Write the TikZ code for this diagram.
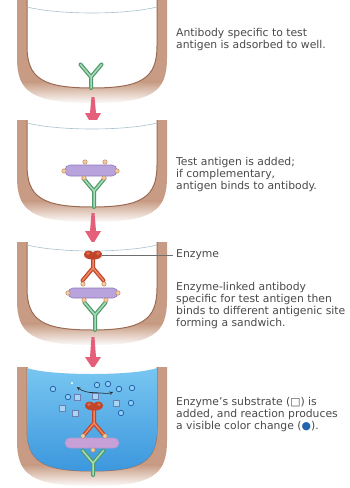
\documentclass[tikz,border=0pt]{standalone}
\usepackage{fontspec}
\setmainfont{DejaVu Sans}
\definecolor{wall}{HTML}{C89C84}
\definecolor{walledge}{HTML}{9A6A52}
\definecolor{menisc}{HTML}{A9C2CE}
\definecolor{abgreen}{HTML}{4F9B6C}
\definecolor{abgreenlt}{HTML}{A9DCB9}
\definecolor{abred}{HTML}{C0452A}
\definecolor{abredlt}{HTML}{EE8A62}
\definecolor{agpurple}{HTML}{B8A3DC}
\definecolor{agpurple4}{HTML}{C8A0D8}
\definecolor{agedge}{HTML}{8E7ABD}
\definecolor{dotfill}{HTML}{F0CCA4}
\definecolor{dotedge}{HTML}{C4885A}
\definecolor{arrowpink}{HTML}{E4607A}
\definecolor{txtgray}{HTML}{4A4A4A}
\definecolor{bluetop}{HTML}{78C6F1}
\definecolor{bluebot}{HTML}{3C97DD}
\definecolor{prodfill}{HTML}{8ED0F4}
\definecolor{prodedge}{HTML}{2463AE}
\definecolor{subfill}{HTML}{A6D6F3}
\definecolor{subedge}{HTML}{6C7DB0}

\tikzset{
  caption/.style={anchor=north west, inner sep=0pt, align=left, text=txtgray,
    font=\fontsize{10.8}{11.8}\selectfont},
  menline/.style={menisc, line width=0.6pt},
  agbar/.style={fill=agpurple, draw=agedge, line width=0.6pt, rounded corners=5pt},
  adot/.style={circle, fill=dotfill, draw=dotedge, line width=0.5pt, minimum size=4.4pt, inner sep=0pt},
  prod/.style={circle, fill=prodfill, draw=prodedge, line width=0.8pt, minimum size=5.5pt, inner sep=0pt},
  subs/.style={rectangle, fill=subfill, draw=subedge, line width=0.8pt, minimum size=6pt, inner sep=0pt},
  flowarrow/.style={fill=arrowpink},
  pointer/.style={draw=txtgray!80, line width=0.6pt},
}

% outline of the plastic around one well: #1 = top, #2 = lowest point of the bowl
\newcommand{\wellouter}[2]{(17,#1) -- (17,{#2-30}) .. controls (17,{#2+4}) and (32,{#2+15}) .. (92,{#2+15})
     .. controls (152,{#2+15}) and (167,{#2+4}) .. (167,{#2-30}) -- (167,#1) -- cycle}
\newcommand{\wellinner}[2]{(27,#1) -- (27,{#2-42}) .. controls (27,{#2-10}) and (42,#2) .. (92,#2)
     .. controls (142,#2) and (157,{#2-10}) .. (157,{#2-42}) -- (157,#1)}

\newcommand{\drawwell}[2]{%
  \begin{scope}
    \clip \wellouter{#1}{#2};
    \fill[wall] (0,{#1-2}) rectangle (349,{#2-6});
    \shade[top color=wall, bottom color=white] (0,{#2-6.2}) rectangle (349,{#2+16});
  \end{scope}
  \fill[white] \wellinner{#1}{#2} -- cycle;
  \draw[walledge, line width=1pt] \wellinner{#1}{#2};
}

% Y-shaped antibody: #1 x, #2 fork y, #3 +1 arms up / -1 arms down, #4 stem length, #5 #6 colours
\newcommand{\antibodyY}[6]{%
  \foreach \col/\wid in {#5/4, #6/1.5}{
    \draw[\col, line width=\wid pt, line cap=round, line join=round]
      ({#1-10.5},{#2-(#3)*12.5}) -- (#1,#2) -- ({#1+10.5},{#2-(#3)*12.5})
      (#1,#2) -- (#1,{#2+(#3)*(#4)});
  }
}

% enzyme attached to the top of the second antibody, centred at (#1,#2)
\newcommand{\enzymehead}[2]{%
  \fill[abred] (#1,{#2+4.5}) .. controls ({#1-4},{#2+4.5}) and ({#1-9.5},{#2+3.5}) .. ({#1-9},{#2-1})
    .. controls ({#1-8.5},{#2-5}) and ({#1-2},{#2-5.5}) .. (#1,{#2-2.5})
    .. controls ({#1+2},{#2-5.5}) and ({#1+8.5},{#2-5}) .. ({#1+9},{#2-1})
    .. controls ({#1+9.5},{#2+3.5}) and ({#1+4},{#2+4.5}) .. (#1,{#2+4.5}) -- cycle;
  \fill[abredlt, opacity=0.55] ({#1-5},{#2-1.5}) circle (1.8) ({#1+5},{#2-1.5}) circle (1.8);
}

% downward arrow between steps: #1 x, #2 top, #3 base of head, #4 tip
\newcommand{\steparrow}[4]{%
  \fill[flowarrow] ({#1-1.5},#2) -- ({#1+1.5},#2) -- ({#1+3},#3) -- ({#1+8},#3) -- (#1,#4)
    -- ({#1-8},#3) -- ({#1-3},#3) -- cycle;
}

\begin{document}
\begin{tikzpicture}[x=1pt, y=-1pt]
\useasboundingbox (0,0) rectangle (349,488);
\fill[white] (0,0) rectangle (349,488);

% ---------- step 1: capture antibody in the well ----------
\drawwell{-2}{88}
\draw[menline] (27,7) .. controls (60,15) and (124,15) .. (157,7);
\antibodyY{91}{77}{1}{11}{abgreen}{abgreenlt}
\node[caption] (t1) at (176,28) {Antibody specific to test\\antigen is adsorbed to well.};

\steparrow{93}{97}{113}{127}

% ---------- step 2: antigen binds ----------
\drawwell{120}{207}
\draw[menline] (27,123) .. controls (60,131) and (124,131) .. (157,123);
\antibodyY{94}{191}{1}{16}{abgreen}{abgreenlt}
\draw[agbar] (65,165) rectangle (117,176);
\node[adot] at (85,162) {};
\node[adot] at (105,162) {};
\node[adot] at (64,171) {};
\node[adot] at (117,171) {};
\node[adot] at (84,178) {};
\node[adot] at (104,178) {};
\node[caption] (t2) at (176,157.5) {Test antigen is added;\\if complementary,\\antigen binds to antibody.};

\steparrow{93}{213}{231}{244}

% ---------- step 3: enzyme-linked antibody ----------
\drawwell{242}{330}
\draw[menline] (27,245) .. controls (60,253) and (124,253) .. (157,245);
\antibodyY{95}{315}{1}{15}{abgreen}{abgreenlt}
\draw[agbar] (68,288) rectangle (118,298);
\antibodyY{93}{268}{-1}{10}{abred}{abredlt}
\enzymehead{93}{255}
\coordinate (e3) at (102,255);
\node[adot] at (83,284) {};
\node[adot] at (104,284) {};
\node[adot] at (68,293) {};
\node[adot] at (118,293) {};
\node[adot] at (84,300) {};
\node[adot] at (106,300) {};
\node[caption, anchor=west] (t3) at (176,255) {Enzyme};
\draw[pointer] (e3) -- ([xshift=-3pt]t3.west);
\node[caption] (t4) at (176,282.5) {Enzyme-linked antibody\\specific for test antigen then\\binds to different antigenic site\\forming a sandwich.};

\steparrow{93}{337}{357}{369}

% ---------- step 4: substrate turns coloured ----------
\drawwell{367}{471}
\shade[top color=bluetop, bottom color=bluebot]
  (27,368) .. controls (50,376) and (134,376) .. (157,368)
  -- (157,429) .. controls (157,461) and (142,471) .. (92,471)
  .. controls (42,471) and (27,461) .. (27,429) -- cycle;
\antibodyY{93}{463}{1}{12}{abgreen}{abgreenlt}
\draw[agbar, fill=agpurple4, draw=agpurple4!70!agedge] (65,438) rectangle (119,448);
\antibodyY{94}{423}{-1}{13}{abred}{abredlt}
\enzymehead{94}{406}
\node[adot] at (83,436) {};
\node[adot] at (105,436) {};
\node[adot] at (93,450) {};
% coloured product
\node[prod] (c1) at (53,389) {};
\node[prod] (c2) at (68,397) {};
\node[prod] (c3) at (97,385) {};
\node[prod] (c4) at (108,384) {};
\node[prod] (c5) at (119,389) {};
\node[prod] (c6) at (132,388) {};
\node[prod] (c7) at (131,403) {};
\node[prod] (c8) at (121,413) {};
\node[circle, fill=white!85!prodfill, minimum size=2.5pt, inner sep=0pt] (c0) at (72,383) {};
% substrate
\node[subs] (s0) at (95,396) {};
\node[subs] (s1) at (77,397) {};
\node[subs] (s2) at (62,408) {};
\node[subs] (s3) at (75,413) {};
\node[subs] (s4) at (116,403) {};
\coordinate (al) at (77,387);
\coordinate (ar) at (113,392);
\draw[black!85, line width=0.6pt, -stealth] (s0.north) .. controls (88,393) and (82,391) .. (al);
\draw[black!85, line width=0.6pt, -stealth] (s0.north) .. controls (102,393) and (108,394) .. (ar);
\node[caption] (t5) at (176,397.5) {Enzyme’s substrate (□) is\\added, and reaction produces\\a visible color change ({\color{prodedge}●}).};

\end{tikzpicture}
\end{document}
